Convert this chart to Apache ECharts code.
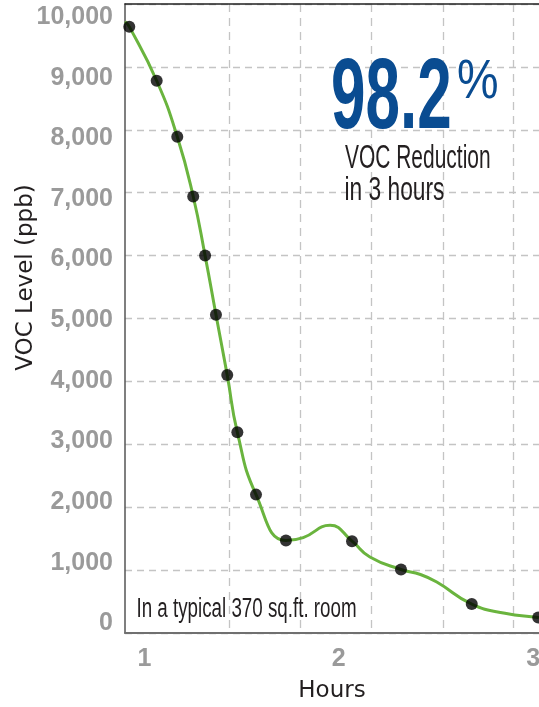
<!DOCTYPE html>
<html>
<head>
<meta charset="utf-8">
<script src="https://cdn.jsdelivr.net/npm/echarts@6/dist/echarts.min.js"></script>
<style>
  html, body { margin: 0; padding: 0; background: #fff; }
  #chart { width: 539px; height: 707px; }
</style>
</head>
<body>
<div id="chart"></div>
<script>
  // measured samples (hours, ppb)
  const sampleHours = [0.922, 1.063, 1.169, 1.251, 1.312, 1.368, 1.426, 1.478, 1.574, 1.728, 2.068, 2.320, 2.684, 3.026]
  const sampleVoc = [9640, 8780, 7890, 6940, 6000, 5060, 4100, 3190, 2200, 1470, 1460, 1010, 460, 245]

  // curve (passes through the samples)
  const curveHours = [0.9, 0.922, 1.063, 1.169, 1.251, 1.312, 1.368, 1.426, 1.478, 1.574, 1.728, 1.817, 1.955, 2.068, 2.16, 2.320, 2.42, 2.504, 2.684, 2.855, 3.026, 3.03]
  const curveVoc = [9720, 9640, 8780, 7890, 6940, 6000, 5060, 4100, 3190, 2200, 1470, 1517, 1712, 1460, 1208, 1010, 930, 811, 460, 313, 245, 240]

  const xLabelValues = [1, 2, 3]
  const xGridValues = [1.437, 1.804, 2.169, 2.535, 2.9]
  const yLabelValues = [0, 1000, 2000, 3000, 4000, 5000, 6000, 7000, 8000, 9000, 10000]

  const gray = '#9a9a9a'
  const dark = '#231f20'

  const myChart = echarts.init(document.getElementById('chart'))

  const option = {
    animation: false,
    grid: {
      left: 125,
      right: 0,
      top: 4,
      bottom: 74,
      outerBoundsMode: 'none'
    },
    xAxis: [{
      type: 'value',
      min: 0.9,
      max: 3.03,
      name: 'Hours',
      nameLocation: 'middle',
      nameGap: 47,
      nameTextStyle: {
        fontFamily: 'DejaVu Sans',
        fontSize: 23,
        color: dark
      },
      axisLine: {
        show: true,
        onZero: false,
        lineStyle: { color: '#707070', width: 2 }
      },
      axisTick: {
        show: false,
        customValues: xGridValues
      },
      axisLabel: {
        customValues: xLabelValues,
        margin: 14,
        fontFamily: 'Liberation Sans',
        fontWeight: 'bold',
        fontSize: 25,
        color: gray
      },
      splitLine: {
        show: true,
        lineStyle: { color: '#c4c4c4', width: 1.3, type: [8, 6] }
      }
    }, {
      type: 'value',
      position: 'top',
      min: 0.9,
      max: 3.03,
      axisLine: {
        show: true,
        onZero: false,
        lineStyle: { color: '#222', width: 1.5 }
      },
      axisTick: { show: false },
      axisLabel: { show: false },
      splitLine: { show: false }
    }],
    yAxis: [{
      type: 'value',
      min: 0,
      max: 10000,
      interval: 1000,
      name: 'VOC Level (ppb)',
      nameLocation: 'middle',
      nameGap: 87,
      nameTextStyle: {
        fontFamily: 'DejaVu Sans',
        fontSize: 23,
        color: dark,
        padding: [0, 0, 0, 82]
      },
      axisLine: {
        show: true,
        onZero: false,
        lineStyle: { color: '#555', width: 1.5 }
      },
      axisTick: { show: false },
      axisLabel: { show: false },
      splitLine: {
        show: true,
        lineStyle: { color: '#c4c4c4', width: 1.3, type: [7, 5] }
      }
    }, {
      // label-only axis: the printed labels sit slightly off the grid lines
      type: 'value',
      position: 'left',
      min: -160,
      max: 10215,
      axisLine: { show: false, onZero: false },
      axisTick: { show: false },
      splitLine: { show: false },
      axisLabel: {
        customValues: yLabelValues,
        margin: 12,
        fontFamily: 'Liberation Sans',
        fontWeight: 'bold',
        fontSize: 25,
        color: gray,
        formatter: v => v.toLocaleString('en-US')
      }
    }],
    series: [{
      name: 'curve',
      type: 'line',
      smooth: true,
      showSymbol: false,
      data: curveHours.map((h, i) => [h, curveVoc[i]]),
      lineStyle: { color: '#6ab43e', width: 3 },
      z: 2
    }, {
      name: 'samples',
      type: 'scatter',
      symbolSize: 12,
      data: sampleHours.map((h, i) => [h, sampleVoc[i]]),
      itemStyle: { color: '#000' },
      z: 3
    }],
    graphic: [{
      type: 'text',
      x: 331,
      y: 100,
      scaleX: 0.62,
      style: {
        text: '98.2',
        fontFamily: 'Liberation Sans',
        fontWeight: 'bold',
        fontSize: 100,
        fill: '#0a4c91',
        align: 'left',
        verticalAlign: 'middle'
      },
      z: 10
    }, {
      type: 'text',
      x: 457,
      y: 83,
      scaleX: 0.85,
      style: {
        text: '%',
        fontFamily: 'Liberation Sans',
        fontSize: 55,
        fill: '#0a4c91',
        align: 'left',
        verticalAlign: 'middle'
      },
      z: 10
    }, {
      type: 'text',
      x: 345,
      y: 159,
      scaleX: 0.635,
      style: {
        text: 'VOC Reduction',
        fontFamily: 'Liberation Sans',
        fontSize: 33,
        fill: dark,
        align: 'left',
        verticalAlign: 'middle'
      },
      z: 10
    }, {
      type: 'text',
      x: 344.5,
      y: 191,
      scaleX: 0.69,
      style: {
        text: 'in 3 hours',
        fontFamily: 'Liberation Sans',
        fontSize: 33,
        fill: dark,
        align: 'left',
        verticalAlign: 'middle'
      },
      z: 10
    }, {
      type: 'text',
      x: 136.5,
      y: 609.6,
      scaleX: 0.695,
      style: {
        text: 'In a typical 370 sq.ft. room',
        fontFamily: 'Liberation Sans',
        fontSize: 27,
        fill: dark,
        align: 'left',
        verticalAlign: 'middle'
      },
      z: 10
    }]
  }

  myChart.setOption(option)
</script>
</body>
</html>
